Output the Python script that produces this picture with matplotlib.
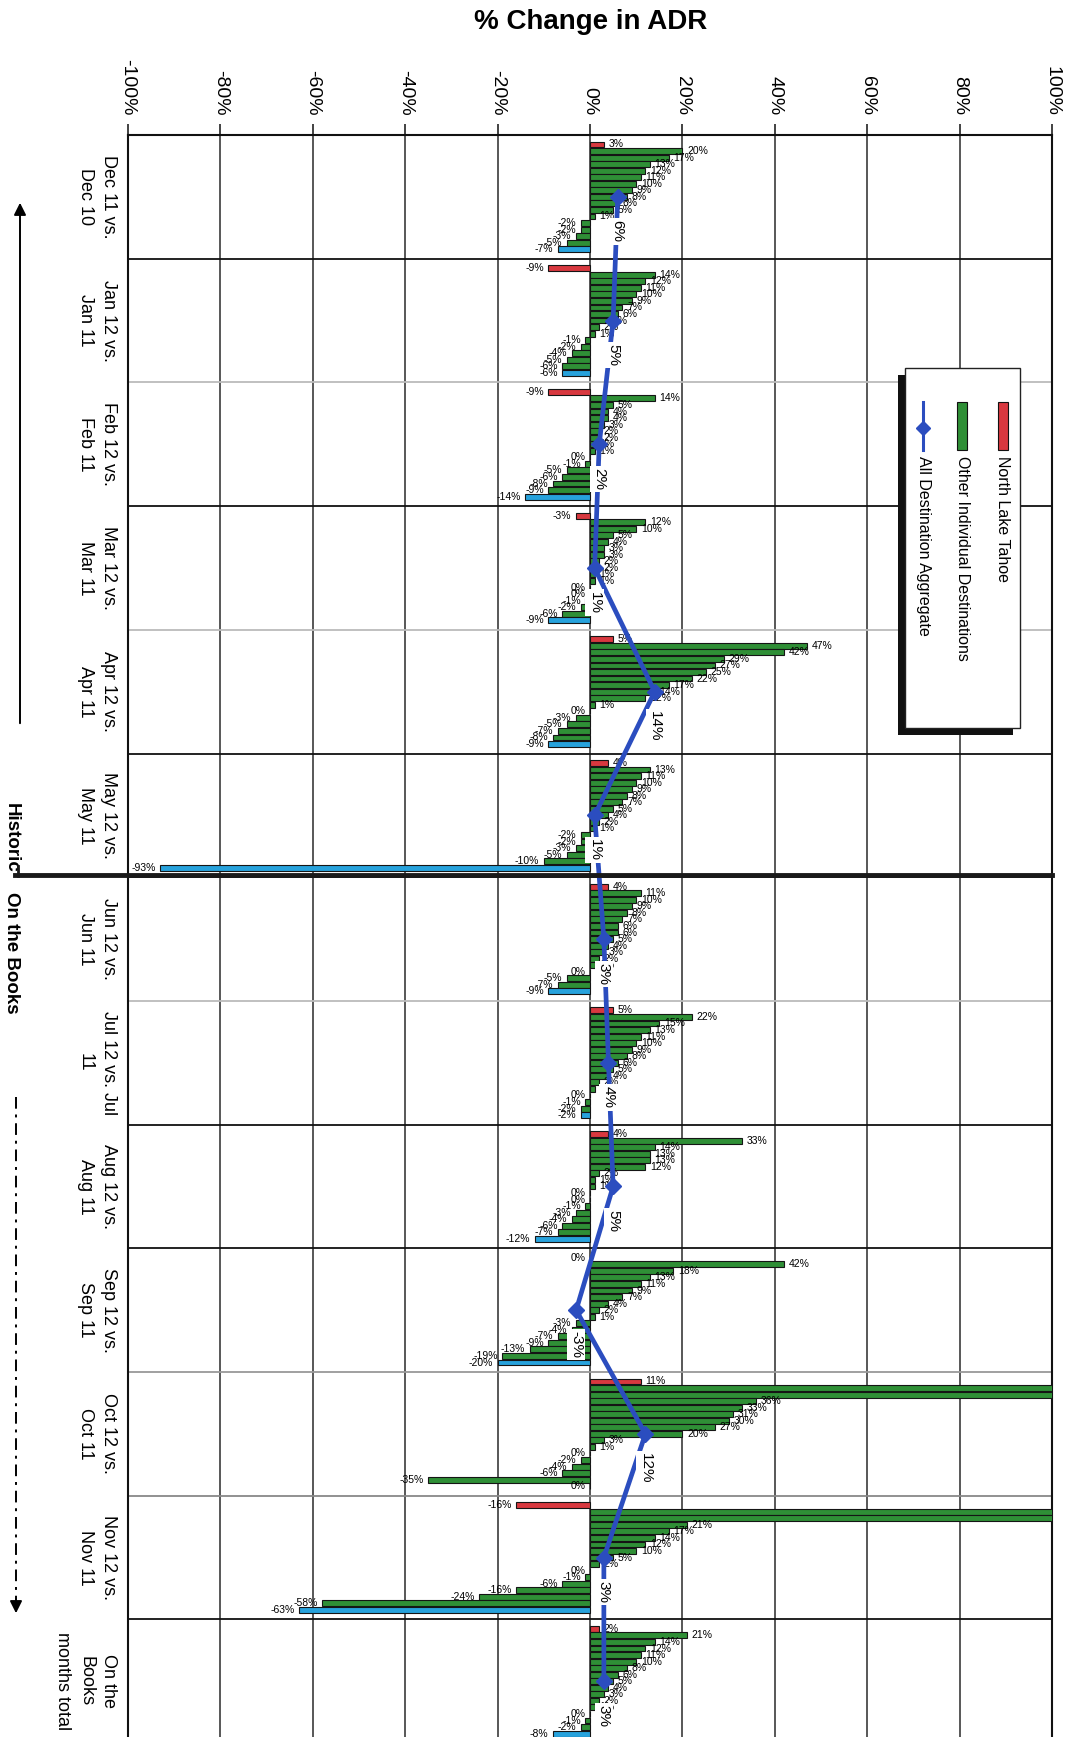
import numpy as np
import matplotlib
matplotlib.use("Agg")
import matplotlib.pyplot as plt
import matplotlib.transforms as mtransforms
from matplotlib.patches import Rectangle
from matplotlib.lines import Line2D

plt.rcParams["font.family"] = ["Liberation Sans", "DejaVu Sans"]

# ADR change by month, one group of bars per month comparison
months = [
    "Dec 11 vs.\nDec 10", "Jan 12 vs.\nJan 11", "Feb 12 vs.\nFeb 11",
    "Mar 12 vs.\nMar 11", "Apr 12 vs.\nApr 11", "May 12 vs.\nMay 11",
    "Jun 12 vs.\nJun 11", "Jul 12 vs. Jul\n11", "Aug 12 vs.\nAug 11",
    "Sep 12 vs.\nSep 11", "Oct 12 vs.\nOct 11", "Nov 12 vs.\nNov 11",
    "On the\nBooks\nmonths total",
]
north_lake_tahoe = [3, -9, -9, -3, 5, 4, 4, 5, 4, 0, 11, -16, 2]
other_destinations = [
    [20, 17, 13, 12, 11, 10, 9, 8, 6, 5, 1, -2, -2, -3, -5],
    [14, 12, 11, 10, 9, 7, 6, 4, 2, 1, -1, -2, -4, -5, -6],
    [14, 5, 4, 4, 3, 2, 2, 1, 1, 0, -1, -5, -6, -8, -9],
    [12, 10, 5, 4, 3, 3, 2, 2, 1, 1, 0, 0, -1, -2, -6],
    [47, 42, 29, 27, 25, 22, 17, 14, 12, 1, 0, -3, -5, -7, -8],
    [13, 11, 10, 9, 8, 7, 5, 4, 2, 1, -2, -2, -3, -5, -10],
    [11, 10, 9, 8, 7, 6, 6, 5, 4, 3, 2, 1, 0, -5, -7],
    [22, 15, 13, 11, 10, 9, 8, 6, 5, 4, 2, 1, 0, -1, -2],
    [33, 14, 13, 13, 12, 2, 1, 1, 0, 0, -1, -3, -4, -6, -7],
    [42, 18, 13, 11, 9, 7, 4, 2, 1, -3, -4, -7, -9, -13, -19],
    [150, 120, 36, 33, 31, 30, 27, 20, 3, 1, 0, -2, -4, -6, -35],
    [130, 110, 21, 17, 14, 12, 10, 5, 2, 0, -1, -6, -16, -24, -58],
    [21, 14, 12, 11, 10, 8, 6, 5, 4, 3, 2, 1, 0, -1, -2],
]
last_destination = [-7, -6, -14, -9, -9, -93, -9, -2, -12, -20, 0, -63, -8]
aggregate = [6, 5, 2, 1, 14, 1, 3, 4, 5, -3, 12, 3, 3]

ticks = [-100, -80, -60, -40, -20, 0, 20, 40, 60, 80, 100]
tick_labels = ["-100%", "-80%", "-60%", "-40%", "-20%", "0%",
               "20%", "40%", "60%", "80%", "100%"]

RED = "#d8383f"
GREEN = "#2f8f36"
LBLUE = "#27a2dc"
AGG = "#2b4dbf"

W, H = 1079, 1737
fig = plt.figure(figsize=(W / 100, H / 100), dpi=100)


def fx(px):
    return px / W


def fy(py):
    return 1 - py / H


n = len(months)
left, right, top, group_px = 128, 1052, 135, 123.7
ax = fig.add_axes([fx(left), fy(top + n * group_px), (right - left) / W, n * group_px / H])
ax.set_xlim(-100, 100)
ax.set_ylim(n - 0.5, -0.5)

n_bars = len(other_destinations[0]) + 2
step = 0.9 / n_bars
offsets = (np.arange(n_bars) - (n_bars - 1) / 2) * step
colors = [RED] + [GREEN] * (n_bars - 2) + [LBLUE]

for i in range(n):
    vals = [north_lake_tahoe[i]] + other_destinations[i] + [last_destination[i]]
    ys = i + offsets
    ax.barh(ys, vals, height=step * 0.9, color=colors, edgecolor="#151515",
            linewidth=0.8, zorder=3)
    for y, v in zip(ys, vals):
        if v > 100:
            continue
        if v > 0:
            ax.text(v + 1, y, f"{v}%", ha="left", va="center", fontsize=7.5, zorder=4)
        else:
            ax.text(v - 1, y, f"{v}%", ha="right", va="center", fontsize=7.5, zorder=4)

# all-destination aggregate line
ax.plot(aggregate, range(n), color=AGG, lw=3.4, marker="D", ms=8, zorder=5)
for i, v in enumerate(aggregate):
    ax.text(v, i + 0.28, f"{v}%", rotation=-90, ha="center", va="center",
            fontsize=11, bbox=dict(fc="white", ec="none", pad=1.5), zorder=6)

# month separators
sep_colors = ["#111", "#bbb", "#111", "#bbb", "#111", "#111",
              "#bbb", "#111", "#111", "#999", "#888", "#111"]
for k, c in enumerate(sep_colors):
    ax.axhline(k + 0.5, color=c, lw=1.3, zorder=2)

ax.xaxis.tick_top()
ax.set_xticks(ticks)
ax.set_xticklabels(tick_labels, rotation=-90, fontsize=14)
ax.tick_params(axis="x", length=8, width=1.2, pad=6, color="#222")
ax.set_yticks([])
ax.grid(axis="x", color="#2a2a2a", lw=1.1, zorder=1)
for s in ["top", "left", "right"]:
    ax.spines[s].set_linewidth(1.5)
    ax.spines[s].set_color("#111")
ax.spines["bottom"].set_visible(False)

# month labels on the left
trans = mtransforms.blended_transform_factory(ax.transAxes, ax.transData)
for i, lab in enumerate(months):
    ax.text(-0.012, i, lab, transform=trans, rotation=-90, ha="right", va="center",
            multialignment="center", fontsize=13, linespacing=1.45, clip_on=False)

fig.text(fx(591), fy(22), "% Change in ADR", ha="center", va="center",
         fontsize=20, fontweight="bold")

# legend box with shadow
lx0, ly0, lx1, ly1 = 905, 368, 1020, 728
fig.add_artist(Rectangle((fx(lx0 - 7), fy(ly1 + 7)), (lx1 - lx0) / W, (ly1 - ly0) / H,
                         transform=fig.transFigure, fc="#111", ec="none", zorder=10))
fig.add_artist(Rectangle((fx(lx0), fy(ly1)), (lx1 - lx0) / W, (ly1 - ly0) / H,
                         transform=fig.transFigure, fc="white", ec="#222", lw=1, zorder=11))
for xc, col in [(1003, RED), (962, GREEN)]:
    fig.add_artist(Rectangle((fx(xc - 5), fy(450)), 10 / W, 48 / H, transform=fig.transFigure,
                             fc=col, ec="#111", lw=0.8, zorder=12))
fig.add_artist(Line2D([fx(923), fx(923)], [fy(402), fy(450)], color=AGG, lw=2.2, zorder=12))
fig.add_artist(Line2D([fx(923)], [fy(428)], color=AGG, marker="D", ms=7, zorder=12))
for xc, lab in [(1003, "North Lake Tahoe"), (962, "Other Individual Destinations"),
                (923, "All Destination Aggregate")]:
    fig.text(fx(xc), fy(456), lab, rotation=-90, rotation_mode="anchor", ha="left",
             va="center", fontsize=11.5, zorder=12)

# historic / on-the-books markers on the far left
ax.annotate("", xy=(fx(20), fy(200)), xytext=(fx(20), fy(726)), xycoords="figure fraction",
            arrowprops=dict(arrowstyle="-|>", color="black", lw=1.4, mutation_scale=18))
fig.add_artist(Line2D([fx(16), fx(16)], [fy(1097), fy(1600)], color="black", lw=1.4,
                      ls=(0, (6, 3, 1.5, 3))))
ax.annotate("", xy=(fx(16), fy(1616)), xytext=(fx(16), fy(1596)), xycoords="figure fraction",
            arrowprops=dict(arrowstyle="-|>", color="black", lw=1.4, mutation_scale=18))
fig.add_artist(Line2D([fx(15), fx(right)], [fy(875), fy(875)], color="#1a1a1a", lw=3.5, zorder=6))
fig.add_artist(Line2D([fx(18), fx(18)], [fy(866), fy(876)], color="#1a1a1a", lw=2, zorder=6))
fig.text(fx(11), fy(873), "Historic", rotation=-90, ha="center", va="bottom",
         fontsize=13.5, fontweight="bold")
fig.text(fx(11), fy(892), "On the Books", rotation=-90, ha="center", va="top",
         fontsize=13.5, fontweight="bold")

fig.savefig("out.png", dpi=100)
